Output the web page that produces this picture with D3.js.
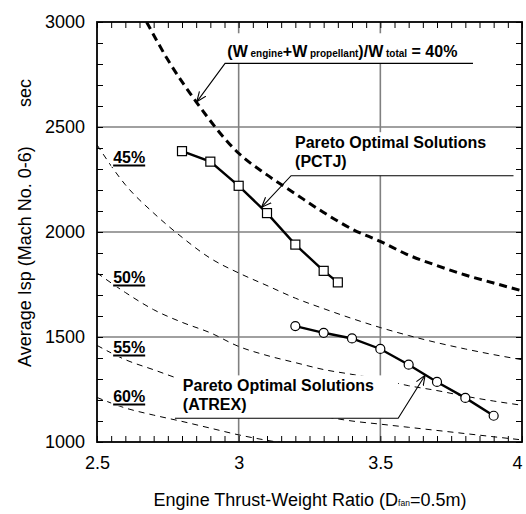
<!doctype html>
<html>
<head>
<meta charset="utf-8">
<style>
    body { margin: 0; background: #fff; }
    text { font-family: "Liberation Sans", Arial, sans-serif; fill: #000; }
</style>
</head>
<body>
<div id="chart"></div>
<script src="https://cdn.jsdelivr.net/npm/d3@7/dist/d3.min.js"></script>
<script>

    // Pareto optimal solutions
    let pctjRatio = [2.8, 2.9, 3.0, 3.1, 3.2, 3.3, 3.35];
    let pctjIsp = [2385, 2335, 2220, 2090, 1940, 1815, 1760];
    let atrexRatio = [3.2, 3.3, 3.4, 3.5, 3.6, 3.7, 3.8, 3.9];
    let atrexIsp = [1552, 1520, 1493, 1443, 1368, 1286, 1210, 1125];

    // constant weight-fraction curves
    let w40Ratio = [2.675, 2.75, 2.85, 3.0, 3.1, 3.2, 3.3, 3.4, 3.5, 3.6, 3.7, 3.8, 3.9, 4.0];
    let w40Isp = [3000, 2820, 2620, 2375, 2272, 2182, 2093, 2014, 1955, 1890, 1840, 1795, 1757, 1720];
    let curveRatio = [2.5, 2.6, 2.7, 2.8, 2.9, 3.0, 3.1, 3.2, 3.3, 3.4, 3.5, 3.6, 3.7, 3.8, 3.9, 4.0];
    let w45Isp = [2415, 2225, 2090, 1975, 1875, 1805, 1745, 1685, 1635, 1588, 1545, 1507, 1473, 1443, 1416, 1392];
    let w50Isp = [1805, 1712, 1630, 1570, 1520, 1455, 1412, 1378, 1345, 1322, 1298, 1268, 1245, 1218, 1195, 1175];
    let w55Isp = [1460, 1392, 1344, 1296, 1255, 1218, 1182, 1150, 1122, 1100, 1085, 1070, 1055, 1040, 1025, 1010];
    let w60Isp = [1212, 1162, 1128, 1098, 1066, 1034, 1008, 988, 975, 965, 958, 952, 948, 945, 942, 940];

    let xDomain = [2.5, 4];
    let yDomain = [1000, 3000];
    let xTickLabels = ['2.5', '3', '3.5', '4'];
    let yTickLabels = ['1000', '1500', '2000', '2500', '3000'];

    let width = 526, height = 514;
    let plot = {left: 97, right: 522, top: 22, bottom: 442};

    let x = d3.scaleLinear().domain(xDomain).range([plot.left, plot.right]);
    let y = d3.scaleLinear().domain(yDomain).range([plot.bottom, plot.top]);

    let svg = d3.select('#chart').append('svg')
        .attr('width', width)
        .attr('height', height);

    svg.append('defs').append('clipPath').attr('id', 'clip')
        .append('rect')
        .attr('x', plot.left).attr('y', plot.top)
        .attr('width', plot.right - plot.left).attr('height', plot.bottom - plot.top);

    svg.select('defs').append('marker')
        .attr('id', 'arrow')
        .attr('viewBox', '0 0 10 10')
        .attr('refX', 10).attr('refY', 5)
        .attr('markerWidth', 10).attr('markerHeight', 10)
        .attr('markerUnits', 'userSpaceOnUse')
        .attr('orient', 'auto')
        .append('path')
        .attr('d', 'M0,1 L10,5 L0,9')
        .attr('fill', 'none')
        .attr('stroke', '#000')
        .attr('stroke-width', 1.1);

    // grid
    let majorX = x.ticks(3).filter(v => v > xDomain[0] && v < xDomain[1]);
    let majorY = y.ticks(4).filter(v => v > yDomain[0] && v < yDomain[1]);

    let grid = svg.append('g').attr('class', 'grid');
    grid.selectAll('line.gx').data(majorX).join('line')
        .attr('x1', d => x(d)).attr('x2', d => x(d))
        .attr('y1', plot.top).attr('y2', plot.bottom)
        .attr('stroke', '#808080').attr('stroke-width', 1.6);
    grid.selectAll('line.gy').data(majorY).join('line')
        .attr('x1', plot.left).attr('x2', plot.right)
        .attr('y1', d => y(d)).attr('y2', d => y(d))
        .attr('stroke', '#808080').attr('stroke-width', 1.6);

    // curves
    let curves = svg.append('g').attr('clip-path', 'url(#clip)');
    let line = d3.line()
        .x(d => x(d[0]))
        .y(d => y(d[1]))
        .curve(d3.curveMonotoneX);

    curves.append('path')
        .datum(d3.zip(w40Ratio, w40Isp))
        .attr('d', line)
        .attr('fill', 'none')
        .attr('stroke', '#000')
        .attr('stroke-width', 3)
        .attr('stroke-dasharray', '8,5');

    [w45Isp, w50Isp, w55Isp, w60Isp].forEach(vals => {
        curves.append('path')
            .datum(d3.zip(curveRatio, vals))
            .attr('d', line)
            .attr('fill', 'none')
            .attr('stroke', '#000')
            .attr('stroke-width', 1)
            .attr('stroke-dasharray', '6,5');
    });

    // annotations with white boxes
    let notes = svg.append('g').attr('class', 'notes');

    function boxedText(lines, xv, yv, lineGap, size, pad, leader) {
        let g = notes.append('g');
        let rect = g.append('rect').attr('fill', '#fff');
        let t = g.append('text')
            .attr('x', x(xv)).attr('y', y(yv))
            .attr('font-size', size).attr('font-weight', 'bold');
        lines.forEach((ln, i) => {
            let first = true;
            ln.forEach(part => {
                let ts = t.append('tspan').text(part.t)
                    .attr('font-size', part.s || size);
                if (first && i > 0) ts.attr('x', x(xv)).attr('dy', lineGap);
                first = false;
            });
        });
        let bb = t.node().getBBox();
        let x0 = bb.x - pad[3], x1 = bb.x + bb.width + pad[1];
        let y0 = bb.y - pad[0], y1 = bb.y + bb.height + pad[2];
        if (leader) {
            y1 = Math.max(y1, y(leader[0][1]));
            if (leader.extendX) x1 = Math.max(x1, x(leader[1][0]));
        }
        rect.attr('x', x0).attr('y', y0).attr('width', x1 - x0).attr('height', y1 - y0);
        if (leader) {
            g.append('path')
                .attr('d', d3.line()(leader.map(p => [x(p[0]), y(p[1])])))
                .attr('fill', 'none')
                .attr('stroke', '#000')
                .attr('stroke-width', 1.1)
                .attr('marker-end', 'url(#arrow)');
        }
        return g;
    }

    boxedText([[{t: '(W'}, {t: ' engine', s: 10}, {t: '+W'}, {t: ' propellant', s: 10},
            {t: ')/W'}, {t: ' total', s: 10}, {t: ' = 40%'}]],
        2.96, 2832, 0, 16, [10, 3, 0, 3],
        [[3.827, 2803], [2.952, 2803], [2.852, 2620]]);

    boxedText([[{t: 'Pareto Optimal Solutions'}], [{t: '(PCTJ)'}]],
        3.199, 2399, 19, 16, [2, 3, 0, 3],
        [[3.97, 2268], [3.185, 2268], [3.081, 2118]]);

    let atrexLeader = [[2.775, 1113], [3.563, 1113], [3.658, 1318]];
    atrexLeader.extendX = true;
    boxedText([[{t: 'Pareto Optimal Solutions'}], [{t: '(ATREX)'}]],
        2.803, 1241, 18.5, 16, [2, 3, 0, 8], atrexLeader);

    // weight fraction labels
    let pctLabels = ['45%', '50%', '55%', '60%'];
    let pctIsp = [2329, 1757, 1424, 1190];
    pctLabels.forEach((lab, i) => {
        let g = notes.append('g');
        let rect = g.append('rect').attr('fill', '#fff');
        let t = g.append('text')
            .attr('x', x(2.557)).attr('y', y(pctIsp[i]))
            .attr('font-size', 16).attr('font-weight', 'bold')
            .text(lab);
        let bb = t.node().getBBox();
        rect.attr('x', bb.x - 2).attr('y', bb.y).attr('width', bb.width + 4).attr('height', bb.height + 1);
        g.append('line')
            .attr('x1', bb.x).attr('x2', bb.x + bb.width)
            .attr('y1', y(pctIsp[i]) + 2.5).attr('y2', y(pctIsp[i]) + 2.5)
            .attr('stroke', '#000').attr('stroke-width', 2);
    });

    // pareto lines
    let series = svg.append('g');
    series.append('path')
        .datum(d3.zip(pctjRatio, pctjIsp))
        .attr('d', d3.line().x(d => x(d[0])).y(d => y(d[1])))
        .attr('fill', 'none').attr('stroke', '#000').attr('stroke-width', 2.4);
    series.selectAll('rect.sq').data(d3.zip(pctjRatio, pctjIsp)).join('rect')
        .attr('x', d => x(d[0]) - 4.5).attr('y', d => y(d[1]) - 4.5)
        .attr('width', 9).attr('height', 9)
        .attr('fill', '#fff').attr('stroke', '#000').attr('stroke-width', 1.2);

    series.append('path')
        .datum(d3.zip(atrexRatio, atrexIsp))
        .attr('d', d3.line().x(d => x(d[0])).y(d => y(d[1])))
        .attr('fill', 'none').attr('stroke', '#000').attr('stroke-width', 2.4);
    series.selectAll('circle').data(d3.zip(atrexRatio, atrexIsp)).join('circle')
        .attr('cx', d => x(d[0])).attr('cy', d => y(d[1]))
        .attr('r', 4.5)
        .attr('fill', '#fff').attr('stroke', '#000').attr('stroke-width', 1.2);

    // minor ticks on all four sides, pointing inward
    let minorX = x.ticks(30), minorY = y.ticks(20);
    let axes = svg.append('g');
    function tickAxis(axis, tx, ty) {
        let g = axes.append('g').attr('transform', `translate(${tx},${ty})`)
            .call(axis.tickFormat('').tickSizeOuter(0));
        g.select('.domain').remove();
        g.selectAll('.tick line').attr('stroke', '#000').attr('stroke-width', 1);
    }
    tickAxis(d3.axisBottom(x).tickValues(minorX).tickSizeInner(-6), 0, plot.bottom);
    tickAxis(d3.axisTop(x).tickValues(minorX).tickSizeInner(-6), 0, plot.top);
    tickAxis(d3.axisLeft(y).tickValues(minorY).tickSizeInner(-6), plot.left, 0);
    tickAxis(d3.axisRight(y).tickValues(minorY).tickSizeInner(-6), plot.right, 0);

    // frame
    axes.append('rect')
        .attr('x', plot.left).attr('y', plot.top)
        .attr('width', plot.right - plot.left).attr('height', plot.bottom - plot.top)
        .attr('fill', 'none').attr('stroke', '#000').attr('stroke-width', 1.8);

    // tick labels
    let xLab = axes.append('g').attr('transform', `translate(0,${plot.bottom})`)
        .call(d3.axisBottom(x).tickValues(x.ticks(3)).tickSize(0).tickPadding(14)
            .tickFormat((d, i) => xTickLabels[i]));
    xLab.select('.domain').remove();
    xLab.selectAll('text').attr('font-size', 18).attr('font-family', '"Liberation Sans", Arial, sans-serif');
    // last label sits at the very edge of the page: nudge it inside
    xLab.selectAll('text').filter(d => d === xDomain[1]).attr('dx', -5);

    let yLab = axes.append('g').attr('transform', `translate(${plot.left},0)`)
        .call(d3.axisLeft(y).tickValues(y.ticks(4)).tickSize(0).tickPadding(12)
            .tickFormat((d, i) => yTickLabels[i]));
    yLab.select('.domain').remove();
    yLab.selectAll('text').attr('font-size', 18).attr('font-family', '"Liberation Sans", Arial, sans-serif');

    // axis titles
    let xt = svg.append('text')
        .attr('x', 310).attr('y', 506)
        .attr('text-anchor', 'middle')
        .attr('font-size', 18);
    xt.append('tspan').text('Engine Thrust-Weight Ratio (D');
    xt.append('tspan').text('fan').attr('font-size', 8.5);
    xt.append('tspan').text('=0.5m)');

    svg.append('text')
        .attr('transform', 'translate(31,367) rotate(-90)')
        .attr('font-size', 18)
        .text('Average Isp (Mach No. 0-6)');
    svg.append('text')
        .attr('transform', 'translate(31,107) rotate(-90)')
        .attr('font-size', 18)
        .text('sec');

</script>
</body>
</html>
